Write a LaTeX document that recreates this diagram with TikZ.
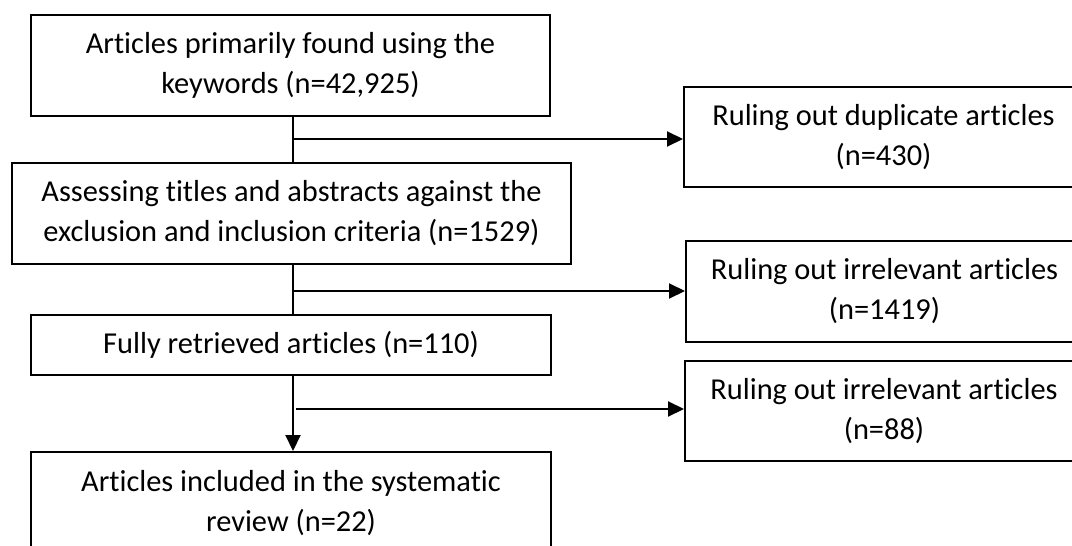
\documentclass[tikz,border=0pt]{standalone}
\usepackage{fontspec}
\setmainfont{Carlito}[Ligatures={NoCommon}]
\usetikzlibrary{arrows.meta}
\begin{document}
\begin{tikzpicture}[x=1pt,y=-1pt,
  box/.style={draw=black,line width=2pt,rectangle,inner sep=0pt,align=center,
    font=\fontsize{30.4}{40}\selectfont},
  conn/.style={draw=black,line width=2pt},
  arr/.style={conn,-{Triangle[length=16pt,width=15pt]}}]
\useasboundingbox (0,0) rectangle (1072,546);
\fill[white] (0,0) rectangle (1072,546);
\clip (0,0) rectangle (1072,546);
\node[box,minimum width=519pt,minimum height=101pt] (b1) at (290.5,65.5)
  {Articles primarily found using the\\keywords (n=42,925)};
\node[box,minimum width=559pt,minimum height=101pt] (b2) at (291.5,213.5)
  {Assessing titles and abstracts against the\\exclusion and inclusion criteria (n=1529)};
\node[box,minimum width=520pt,minimum height=60pt] (b3) at (291,345)
  {Fully retrieved articles (n=110)};
\node[box,minimum width=520pt,minimum height=102pt] (b4) at (291,503)
  {Articles included in the systematic\\review (n=22)};
\node[box,minimum width=399pt,minimum height=100pt] (r1) at (883.5,137)
  {Ruling out duplicate articles\\(n=430)};
\node[box,minimum width=397pt,minimum height=101pt] (r2) at (884.5,291.5)
  {Ruling out irrelevant articles\\(n=1419)};
\node[box,minimum width=398pt,minimum height=100pt] (r3) at (884,411)
  {Ruling out irrelevant articles\\(n=88)};
\coordinate (sx) at (293,0);
\coordinate (j1) at (293,139);
\coordinate (j2) at (293,291);
\coordinate (j3) at (296,409);
\draw[conn] (b1.south -| sx) -- (b2.north -| sx);
\draw[conn] (b2.south -| sx) -- (b3.north -| sx);
\draw[arr] (b3.south -| sx) -- (b4.north -| sx);
\draw[arr] (j1) -- (r1.west |- j1);
\draw[arr] (j2) -- (r2.west |- j2);
\draw[arr] (j3) -- (r3.west |- j3);
\end{tikzpicture}
\end{document}
